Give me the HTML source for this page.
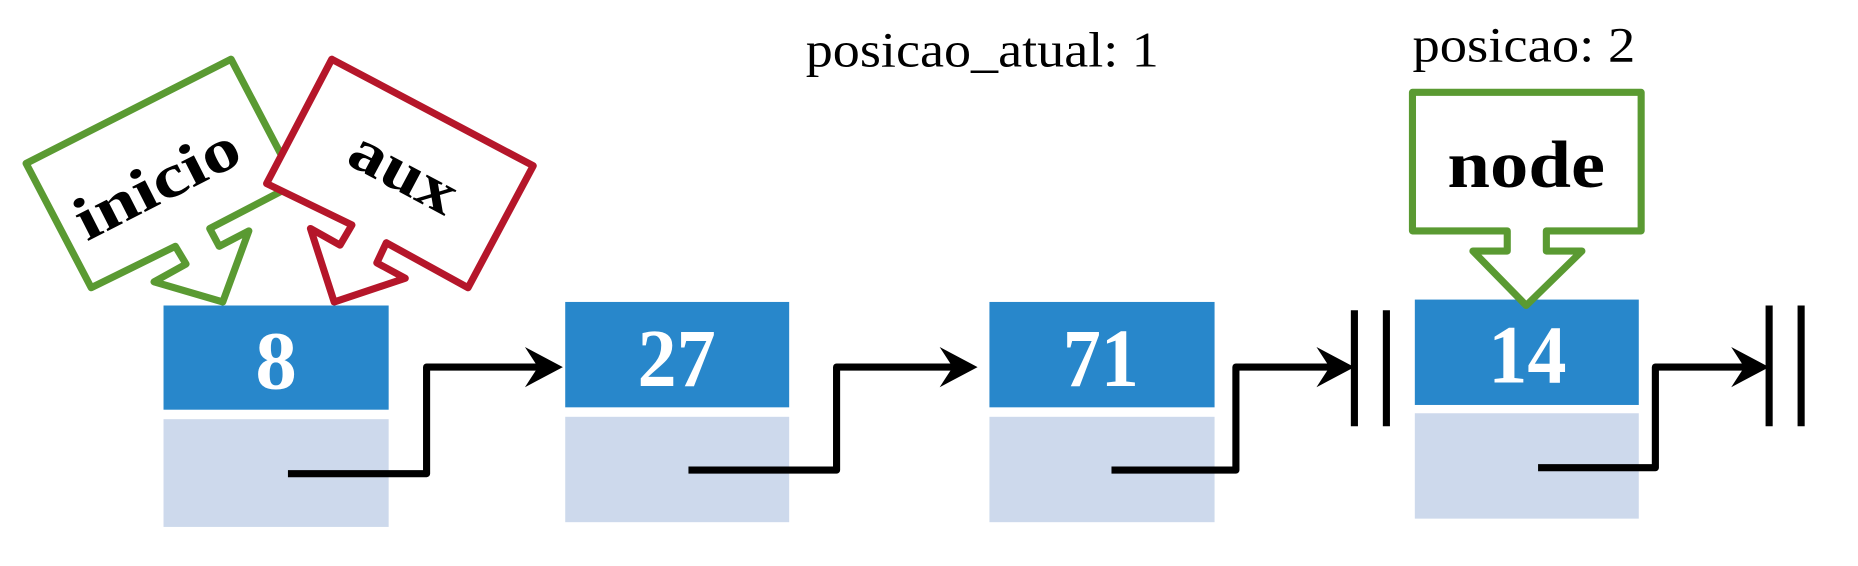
<!DOCTYPE html>
<html><head><meta charset="utf-8"><style>
html,body{margin:0;padding:0;background:#fff;}
svg{display:block;}
</style></head><body>
<svg width="1858" height="566" viewBox="0 0 1568 478" preserveAspectRatio="none" xmlns="http://www.w3.org/2000/svg">
<defs>
<path id="ah" d="M0,0 L-32,-17 L-21,0 L-32,17 Z" fill="#000"/>
</defs>
<g>
<rect x="138" y="258" width="190" height="88" fill="#2887cb"/>
<rect x="138" y="354" width="190" height="91" fill="#cdd9ec"/>
<rect x="477" y="255" width="189" height="89" fill="#2887cb"/>
<rect x="477" y="352" width="189" height="89" fill="#cdd9ec"/>
<rect x="835" y="255" width="190" height="89" fill="#2887cb"/>
<rect x="835" y="352" width="190" height="89" fill="#cdd9ec"/>
<rect x="1194" y="253" width="189" height="89" fill="#2887cb"/>
<rect x="1194" y="349" width="189" height="89" fill="#cdd9ec"/>
</g>
<g font-family="Liberation Serif, serif" font-weight="bold" font-size="70" fill="#fff" text-anchor="middle">
<text x="233" y="328">8</text>
<text x="571" y="326" textLength="66" lengthAdjust="spacingAndGlyphs">27</text>
<text x="929" y="326" textLength="64" lengthAdjust="spacingAndGlyphs">71</text>
<text x="1289" y="323" textLength="66" lengthAdjust="spacingAndGlyphs">14</text>
</g>
<g fill="none" stroke="#000" stroke-width="6" stroke-linejoin="round">
<polyline points="243,400 360,400 360,310 455,310"/>
<polyline points="581,397 706,397 706,310 805,310"/>
<polyline points="938,397 1043,397 1043,310 1124,310"/>
<polyline points="1298,395 1397,395 1397,310 1474,310"/>
<line x1="1143" y1="262" x2="1143" y2="360"/>
<line x1="1170" y1="262" x2="1170" y2="360"/>
<line x1="1493" y1="258" x2="1493" y2="360"/>
<line x1="1520" y1="258" x2="1520" y2="360"/>
</g>
<use href="#ah" x="475" y="310"/>
<use href="#ah" x="825" y="310"/>
<use href="#ah" x="1143" y="310"/>
<use href="#ah" x="1493" y="310"/>
<g font-family="Liberation Serif, serif" font-size="42" fill="#000">
<text x="680" y="56" textLength="298" lengthAdjust="spacingAndGlyphs">posicao_atual: 1</text>
<text x="1192" y="52" textLength="188" lengthAdjust="spacingAndGlyphs">posicao: 2</text>
</g>
<path d="M1192,78 L1385,78 L1385,195 L1305,195 L1305,212 L1335,212 L1288,258 L1243,212 L1272,212 L1272,195 L1192,195 Z" fill="#fff" stroke="#5a9a32" stroke-width="6" stroke-linejoin="round"/>
<text x="1288" y="158" font-family="Liberation Serif, serif" font-weight="bold" font-size="56" text-anchor="middle" textLength="133" lengthAdjust="spacingAndGlyphs">node</text>
<path d="M22,138 L195,50 L250,155 L177,193 L185,208 L210,195 L188,255 L130,238 L157,223 L148,208 L77,243 Z" fill="#fff" stroke="#5a9a32" stroke-width="6" stroke-linejoin="round"/>
<text x="0" y="0" transform="translate(140,170) rotate(-27)" font-family="Liberation Serif, serif" font-weight="bold" font-size="52" text-anchor="middle" textLength="150" lengthAdjust="spacingAndGlyphs">inicio</text>
<path d="M280,50 L450,140 L395,243 L326,205 L318,222 L342,235 L282,255 L262,193 L287,207 L297,190 L225,155 Z" fill="#fff" stroke="#b5162a" stroke-width="6" stroke-linejoin="round"/>
<text x="0" y="0" transform="translate(333,160) rotate(28)" font-family="Liberation Serif, serif" font-weight="bold" font-size="52" text-anchor="middle" textLength="96" lengthAdjust="spacingAndGlyphs">aux</text>
</svg>
</body></html>
